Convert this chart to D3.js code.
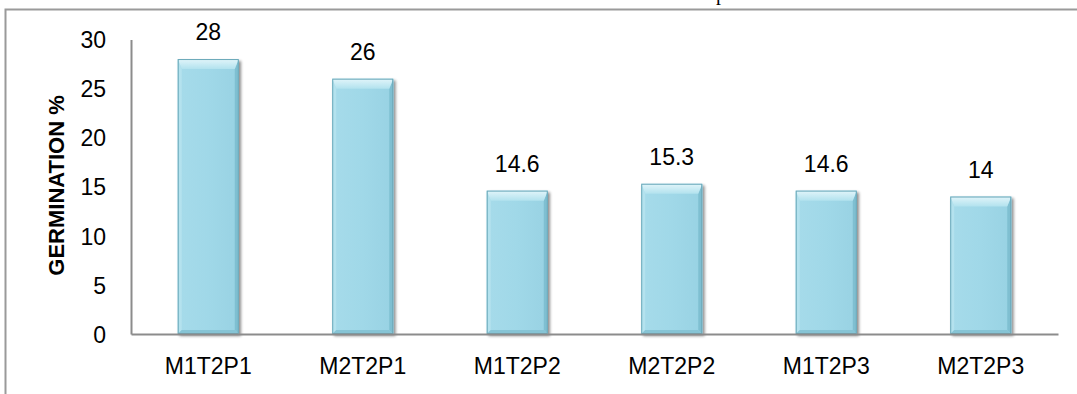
<!DOCTYPE html>
<html>
<head>
<meta charset="utf-8">
<script src="https://cdn.jsdelivr.net/npm/d3@7"></script>
<style>
  html, body { margin: 0; padding: 0; background: #fff; }
  svg { display: block; }
  text { font-family: "Liberation Sans", Arial, sans-serif; fill: #000; }
</style>
</head>
<body>
<svg id="chart" width="1077" height="394"></svg>
<script>
// Germination percentage per treatment
const categories = ["M1T2P1", "M2T2P1", "M1T2P2", "M2T2P2", "M1T2P3", "M2T2P3"];
const germination = [28, 26, 14.6, 15.3, 14.6, 14];
const yTicks = [0, 5, 10, 15, 20, 25, 30];

const svg = d3.select("#chart");
const W = 1077, H = 394;
const plot = { left: 131, right: 1058, top: 39.4, bottom: 334 };

const x = d3.scaleBand().domain(categories).range([plot.left, plot.right]).paddingInner(0.605).paddingOuter(0.3025);
const y = d3.scaleLinear().domain([0, 30]).range([plot.bottom, plot.top]);

const defs = svg.append("defs");
const shadow = defs.append("filter").attr("id", "shadow").attr("x", "-20%").attr("y", "-10%").attr("width", "140%").attr("height", "120%");
shadow.append("feGaussianBlur").attr("in", "SourceAlpha").attr("stdDeviation", 1.6).attr("result", "b");
shadow.append("feOffset").attr("in", "b").attr("dx", 2).attr("dy", 1.5).attr("result", "o");
shadow.append("feComponentTransfer").attr("in", "o").attr("result", "s")
  .append("feFuncA").attr("type", "linear").attr("slope", 0.45);
const merge = shadow.append("feMerge");
merge.append("feMergeNode").attr("in", "s");
merge.append("feMergeNode").attr("in", "SourceGraphic");

const topGrad = defs.append("linearGradient").attr("id", "topBevel").attr("x1", 0).attr("y1", 0).attr("x2", 0).attr("y2", 1);
topGrad.append("stop").attr("offset", 0).attr("stop-color", "#e2f5fa");
topGrad.append("stop").attr("offset", 1).attr("stop-color", "#b2e2ee");

const bodyGrad = defs.append("linearGradient").attr("id", "body").attr("x1", 0).attr("y1", 0).attr("x2", 1).attr("y2", 0);
bodyGrad.append("stop").attr("offset", 0).attr("stop-color", "#a6dbea");
bodyGrad.append("stop").attr("offset", 0.5).attr("stop-color", "#a0d8e8");
bodyGrad.append("stop").attr("offset", 1).attr("stop-color", "#98d2e3");

// Outer frame (left and top edges)
svg.append("path")
  .attr("d", `M5.5,${H} V9.5 H${W}`)
  .attr("fill", "none").attr("stroke", "#9a9a9a").attr("stroke-width", 2);

// Text fragment running off the top edge
svg.append("text").attr("x", 716).attr("y", 0)
  .style("font-family", "'Liberation Serif', serif").style("font-size", "20px").text("p");

// Bars with bevel
const bev = 10, side = 4;
const bars = svg.append("g").selectAll("g").data(categories).join("g")
  .attr("filter", "url(#shadow)");

bars.each(function(c, i) {
  const g = d3.select(this);
  const x0 = x(c), bw = x.bandwidth();
  const y0 = y(germination[i]), y1 = y(0);
  g.append("rect").attr("x", x0).attr("y", y0).attr("width", bw).attr("height", y1 - y0)
    .attr("fill", "url(#body)");
  // left side highlight
  g.append("path").attr("d", `M${x0},${y0} L${x0 + side},${y0 + bev} L${x0 + side},${y1 - side} L${x0},${y1} Z`)
    .attr("fill", "#b4e2ee");
  // right side shade
  g.append("path").attr("d", `M${x0 + bw},${y0} L${x0 + bw - side},${y0 + bev} L${x0 + bw - side},${y1 - side} L${x0 + bw},${y1} Z`)
    .attr("fill", "#7fbfd1");
  // bottom shade
  g.append("path").attr("d", `M${x0},${y1} L${x0 + side},${y1 - side} L${x0 + bw - side},${y1 - side} L${x0 + bw},${y1} Z`)
    .attr("fill", "#86c4d5");
  // top bevel
  g.append("path").attr("d", `M${x0},${y0} L${x0 + bw},${y0} L${x0 + bw - side},${y0 + bev} L${x0 + side},${y0 + bev} Z`)
    .attr("fill", "url(#topBevel)");
  g.append("rect").attr("x", x0 + 0.5).attr("y", y0 + 0.5).attr("width", bw - 1).attr("height", y1 - y0 - 1)
    .attr("fill", "none").attr("stroke", "#6aa8b9").attr("stroke-width", 1);
});

// Value labels
svg.append("g").selectAll("text").data(categories).join("text")
  .attr("x", c => x(c) + x.bandwidth() / 2)
  .attr("y", (c, i) => y(germination[i]) - 19)
  .attr("text-anchor", "middle").style("font-size", "23px")
  .text((c, i) => germination[i]);

// Axes
const yAxis = svg.append("g").attr("transform", `translate(${plot.left},0)`)
  .call(d3.axisLeft(y).tickValues(yTicks).tickSize(0).tickPadding(25));
const xAxis = svg.append("g").attr("transform", `translate(0,${plot.bottom})`)
  .call(d3.axisBottom(x).tickSize(0).tickPadding(24));
[yAxis, xAxis].forEach(a => {
  a.select(".domain").attr("stroke", "#8c8c8c").attr("stroke-width", 2);
  a.selectAll("text").style("font-size", "23px").style("font-family", "'Liberation Sans', Arial, sans-serif").attr("fill", "#000");
});
yAxis.selectAll("text").attr("dy", "0.36em");
xAxis.selectAll("text").attr("dy", "0.71em");

// Y-axis title
svg.append("text")
  .attr("transform", `translate(64,${(93 + 278) / 2}) rotate(-90)`)
  .attr("text-anchor", "middle")
  .style("font-size", "22px").style("font-weight", "bold")
  .text("GERMINATION %");
</script>
</body>
</html>
